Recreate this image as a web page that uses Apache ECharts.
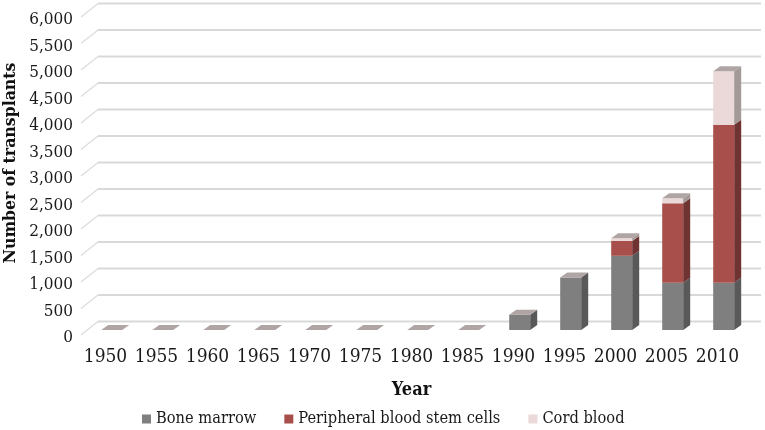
<!DOCTYPE html>
<html><head><meta charset="utf-8">
<style>html,body{margin:0;padding:0;background:#fff}#c{width:765px;height:430px}</style>
<script src="https://cdn.jsdelivr.net/npm/echarts@6/dist/echarts.min.js"></script>
</head><body><div id="c"></div>
<script>
const years = ['1950','1955','1960','1965','1970','1975','1980','1985','1990','1995','2000','2005','2010'];
const boneMarrow = [0,0,0,0,0,0,0,0,290,990,1400,890,890];
const peripheral = [0,0,0,0,0,0,0,0,0,0,280,1500,2985];
const cordBlood  = [0,0,0,0,0,0,0,0,0,0,50,95,1005];
const ticks = [0,500,1000,1500,2000,2500,3000,3500,4000,4500,5000,5500,6000];

const FONT = '"DejaVu Serif Condensed","DejaVu Serif",serif';
const WALL = {dx:18, dy:-13.5};
const BAR = {ox:6.2, oy:-5, dx:7, dy:-5, w:21};
const TOP_COLOR = '#b0a5a5';

function bottoms(list){
  return years.map((_,i)=>list.reduce((s,a)=>s+a[i],0));
}
function barSeries(name, values, base, front, side, withCap){
  return {
    name, type:'custom', silent:true, z:3,
    encode:{x:0,y:1},
    data: years.map((y,i)=>[i, base[i], base[i]+values[i]]),
    itemStyle:{color:front},
    renderItem(params, api){
      const i = api.value(0);
      const b = api.coord([i, api.value(1)]);
      const t = api.coord([i, api.value(2)]);
      const xL = b[0]+BAR.ox-BAR.w/2, xR = xL+BAR.w;
      const yB = b[1]+BAR.oy, yT = t[1]+BAR.oy;
      const children = [];
      if (yB-yT > 0.01){
        children.push({type:'rect',shape:{x:xL,y:yT,width:BAR.w,height:yB-yT},style:{fill:front}});
        children.push({type:'polygon',shape:{points:[[xR,yB],[xR+BAR.dx,yB+BAR.dy],[xR+BAR.dx,yT+BAR.dy],[xR,yT]]},style:{fill:side}});
      }
      if (withCap){
        children.push({type:'polygon',shape:{points:[[xL,yT],[xL+BAR.dx,yT+BAR.dy],[xR+BAR.dx,yT+BAR.dy],[xR,yT]]},style:{fill:TOP_COLOR}});
      }
      return {type:'group',children};
    }
  };
}

const gridSeries = {
  name:'walls', type:'custom', silent:true, z:1,
  encode:{y:0},
  data: ticks.map(t=>[t]),
  renderItem(params, api){
    const cs = params.coordSys;
    const y = api.coord([0, api.value(0)])[1];
    const x0 = cs.x, x1 = cs.x+cs.width;
    return {type:'group',children:[
      {type:'line',shape:{x1:x0+1,y1:y,x2:x0+WALL.dx,y2:y+WALL.dy},style:{stroke:'#dcdcdc',lineWidth:1.3}},
      {type:'line',shape:{x1:x0+WALL.dx,y1:y+WALL.dy,x2:x1+WALL.dx,y2:y+WALL.dy},style:{stroke:'#d9d9d9',lineWidth:1.8}}
    ]};
  }
};

const base0 = years.map(()=>0);
const base1 = bottoms([boneMarrow]);
const base2 = bottoms([boneMarrow,peripheral]);

const chart = echarts.init(document.getElementById('c'),null,{renderer:'canvas'});
chart.setOption({
  animation:false,
  backgroundColor:'#fff',
  grid:{left:80,right:22,top:17,bottom:95,outerBoundsMode:'none'},
  legend:{
    data:['Bone marrow','Peripheral blood stem cells','Cord blood'],
    left:142, top:411, padding:0, icon:'rect', itemWidth:9, itemHeight:9, itemGap:28,
    textStyle:{fontFamily:FONT,fontSize:16.3,color:'#1a1a1a'},
    selectedMode:false
  },
  xAxis:{
    type:'category', data:years,
    axisLine:{show:false}, axisTick:{show:false},
    axisLabel:{fontFamily:FONT,fontSize:19,color:'#1a1a1a',margin:13,interval:0},
    name:'Year', nameLocation:'middle', nameGap:46, nameMoveOverlap:false,
    nameTextStyle:{fontFamily:FONT,fontSize:18,fontWeight:'bold',color:'#111'}
  },
  yAxis:{
    type:'value', min:0, max:6000, interval:500,
    axisLine:{show:false}, axisTick:{show:false}, splitLine:{show:false},
    axisLabel:{color:'#1a1a1a',margin:7,
      formatter:v=>'{n|'+v.toLocaleString('en-US')+'}',
      rich:{n:{fontFamily:FONT,fontSize:17,color:'#1a1a1a',padding:[6,0,0,0]}}},
    name:'Number of transplants', nameLocation:'middle', nameGap:61, nameRotate:90, nameMoveOverlap:false,
    nameTextStyle:{fontFamily:FONT,fontSize:17.5,fontWeight:'bold',color:'#111',padding:[0,0,0,26]}
  },
  series:[
    gridSeries,
    barSeries('Bone marrow',boneMarrow,base0,'#7f7f7f','#595959',false),
    barSeries('Peripheral blood stem cells',peripheral,base1,'#a94f4b','#6f3432',false),
    barSeries('Cord blood',cordBlood,base2,'#ead9d8','#a39997',true)
  ]
});
</script></body></html>
